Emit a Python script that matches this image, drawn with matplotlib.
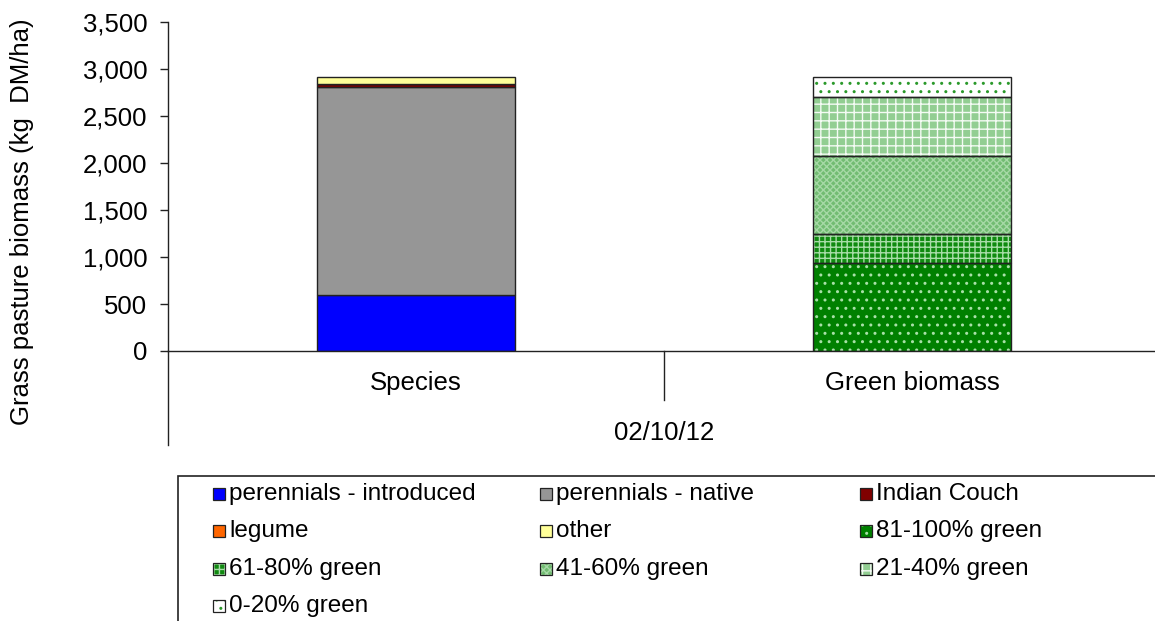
import matplotlib
matplotlib.use("Agg")
import matplotlib.pyplot as plt
from matplotlib.patches import Rectangle
from matplotlib.lines import Line2D

plt.rcParams['font.family'] = ['Liberation Sans', 'DejaVu Sans']
plt.rcParams['hatch.linewidth'] = 1.0

# ---- data ----
categories = ["Species", "Green biomass"]
group_label = "02/10/12"
species_labels = ["perennials - introduced", "perennials - native", "Indian Couch", "legume", "other"]
species_values = [596, 2213, 30, 0, 75]
species_colors = ["#0000FF", "#969696", "#800000", "#FF6600", "#FFFF99"]

green_labels = ["81-100% green", "61-80% green", "41-60% green", "21-40% green", "0-20% green"]
green_values = [936, 309, 833, 628, 209]
green_face = ["#008000", "#108A10", "#72BC72", "#92CE92", "#FFFFFF"]
green_hatch_color = ["#A8E0A8", "#A8DCA8", "#A6D9A6", "#F4FBF4", "#2A992A"]
green_hatch = ["..", "+++", "xxxxx", "++", ".."]

yticks = [0, 500, 1000, 1500, 2000, 2500, 3000, 3500]
ylabel = "Grass pasture biomass (kg  DM/ha)"

legend_rows = [["perennials - introduced", "perennials - native", "Indian Couch"],
               ["legume", "other", "81-100% green"],
               ["61-80% green", "41-60% green", "21-40% green"],
               ["0-20% green"]]

W, H = 1155, 621
fig = plt.figure(figsize=(W / 100, H / 100), dpi=100)

def fx(px):
    return px / W

def fy(py):
    return 1 - py / H

ax_left, ax_right, ax_top, ax_bot = 168, 1160, 22, 351
ax = fig.add_axes([fx(ax_left), fy(ax_bot), fx(ax_right - ax_left), (ax_bot - ax_top) / H])
ax.set_xlim(-0.5, 1.5)
ax.set_ylim(0, 3500)

FS = 18.5
FSL = 17.5
bar_w = 0.4
EDGE = "#222222"
style = {}

# species stack
bottom = 0
for lab, val, col in zip(species_labels, species_values, species_colors):
    ax.bar(0, val, bar_w, bottom=bottom, color=col, edgecolor=EDGE, linewidth=1.0, zorder=3)
    style[lab] = dict(fc=col, hc=None, ht=None)
    bottom += val

# green stack
bottom = 0
for lab, val, fc, hc, ht in zip(green_labels, green_values, green_face, green_hatch_color, green_hatch):
    ax.bar(1, val, bar_w, bottom=bottom, color=fc, edgecolor="none", linewidth=0, zorder=3)
    ax.bar(1, val, bar_w, bottom=bottom, facecolor="none", edgecolor=hc, hatch=ht, linewidth=0, zorder=4)
    ax.bar(1, val, bar_w, bottom=bottom, facecolor="none", edgecolor=EDGE, linewidth=1.0, zorder=5)
    style[lab] = dict(fc=fc, hc=hc, ht=ht)
    bottom += val

# axes styling
for s in ["top", "right", "bottom"]:
    ax.spines[s].set_visible(False)
ax.spines["left"].set_color(EDGE)
ax.spines["left"].set_linewidth(1.0)
ax.set_yticks(yticks)
ax.set_yticklabels([f"{v:,}" for v in yticks], fontsize=FS)
ax.tick_params(axis="y", length=6, width=1.0, color=EDGE, pad=9)
ax.set_xticks([])

# baseline and extended axis lines (category axis area)
ax.axhline(0, color=EDGE, linewidth=1.0, zorder=6, clip_on=False)
ax.add_line(Line2D([-0.5, -0.5], [0, -1000], color=EDGE, linewidth=1.0, clip_on=False))
ax.add_line(Line2D([0.5, 0.5], [0, -520], color=EDGE, linewidth=1.0, clip_on=False))

for i, c in enumerate(categories):
    ax.text(i, -345, c, ha="center", va="center", fontsize=FS)
ax.text(0.5, -870, group_label, ha="center", va="center", fontsize=FS)

fig.text(fx(22), fy(222), ylabel, rotation=90, ha="center", va="center", fontsize=FS)

# legend frame
fig.patches.append(Rectangle((fx(178), fy(640)), fx(1000), (640 - 476) / H, transform=fig.transFigure,
                             facecolor="white", edgecolor=EDGE, linewidth=1.2))

col_x = [213, 540, 860]
row_y = [494, 531, 569, 606]
msz = 12
for r, row in enumerate(legend_rows):
    for c, lab in enumerate(row):
        st = style[lab]
        x0, yc = col_x[c], row_y[r]
        fig.patches.append(Rectangle((fx(x0), fy(yc + msz / 2)), fx(msz), msz / H, transform=fig.transFigure,
                                     facecolor=st["fc"], edgecolor="none", linewidth=0, zorder=3))
        if st["ht"]:
            fig.patches.append(Rectangle((fx(x0), fy(yc + msz / 2)), fx(msz), msz / H, transform=fig.transFigure,
                                         facecolor="none", edgecolor=st["hc"], hatch=st["ht"], linewidth=0, zorder=4))
        fig.patches.append(Rectangle((fx(x0), fy(yc + msz / 2)), fx(msz), msz / H, transform=fig.transFigure,
                                     facecolor="none", edgecolor=EDGE, linewidth=0.9, zorder=5))
        fig.text(fx(x0 + msz + 4), fy(yc), lab, ha="left", va="center", fontsize=FSL)

fig.savefig("out.png", dpi=100)
